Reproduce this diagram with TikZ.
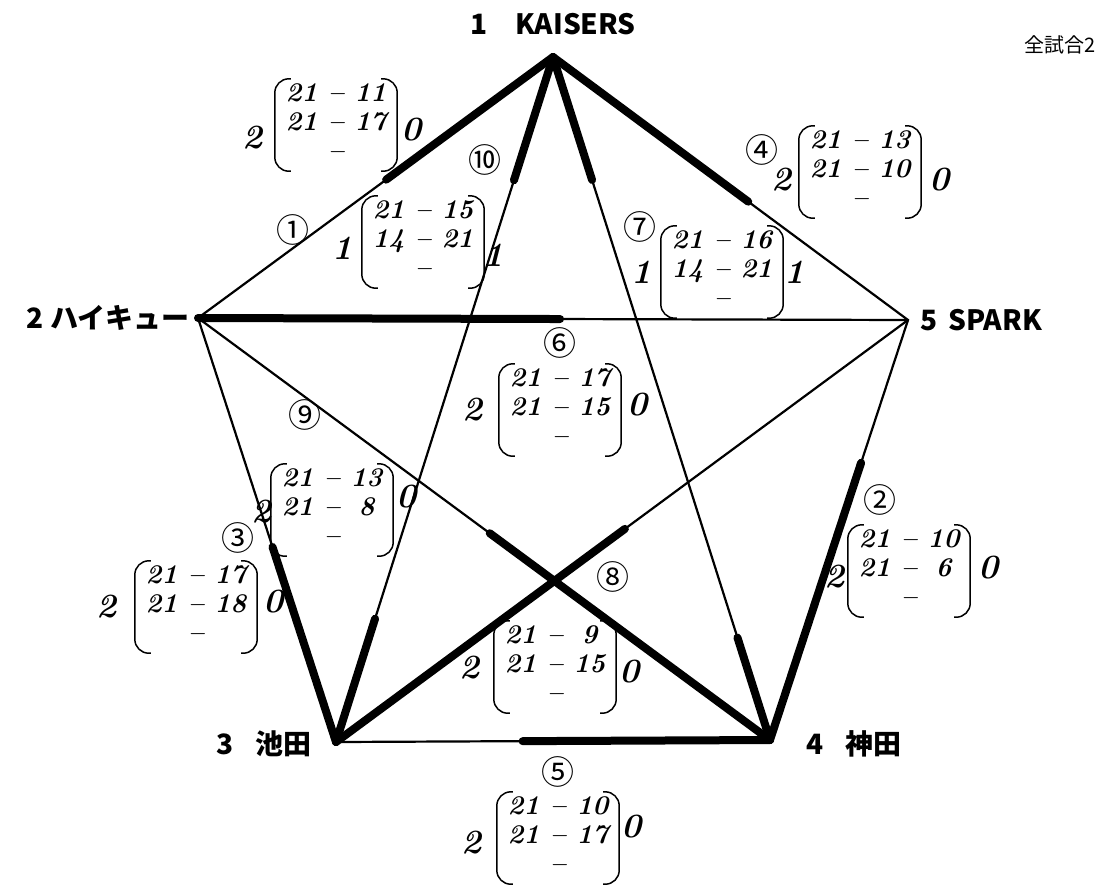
\documentclass[tikz,border=0pt]{standalone}
\usepackage{fontspec}
\usepackage{array}
\newfontfamily\jp{Noto Sans CJK JP}
\usetikzlibrary{calc}
\newcommand\scorerows[4]{\begin{tabular}{@{}>{\centering\arraybackslash}p{39pt}@{}>{\centering\arraybackslash}p{30pt}@{}>{\centering\arraybackslash}p{39pt}@{}}#1 & -- & #2\\ #3 & -- & #4\\ & -- & \end{tabular}}
\newcommand\brk[1]{%
  \draw[brkline] ([xshift=16pt]#1.north west) -- (#1.north west) -- (#1.south west) -- ([xshift=16pt]#1.south west);
  \draw[brkline] ([xshift=-16pt]#1.north east) -- (#1.north east) -- (#1.south east) -- ([xshift=-16pt]#1.south east);}
\tikzset{
  edge/.style={line width=2.2pt},
  win/.style={line width=8pt, line cap=round},
  score/.style={minimum width=122pt, minimum height=92pt, inner sep=0pt, font=\fontsize{27}{29}\selectfont\bfseries\itshape},
  hand/.style={inner sep=0pt, font=\fontsize{34}{34}\selectfont\bfseries\itshape},
  brkline/.style={line width=1.5pt, rounded corners=14pt},
  team/.style={inner sep=0pt, font=\jp\bfseries\fontsize{28}{30}\selectfont},
  circ/.style={inner sep=0pt, font=\jp\fontsize{33}{34}\selectfont},
}
\begin{document}
\begin{tikzpicture}[x=1pt,y=-1pt]
\useasboundingbox[fill=white] (0,0) rectangle (1099,887);
% vertices
\coordinate (v1) at (553,57);
\coordinate (v2) at (198,318);
\coordinate (v5) at (908,320);
\coordinate (v3) at (336,742);
\coordinate (v4) at (770,740);
% team labels
\node[team] (t1) at (553,24) {1\hspace{1em}KAISERS};
\node[team, anchor=east] (t2) at (190,318) {2 ハイキュー};
\node[team, anchor=west] (t5) at (920,320) {5\hspace{0.4em}SPARK};
\node[team, anchor=east] (t3) at (312,744) {3\hspace{0.8em}池田};
\node[team, anchor=west] (t4) at (806,744) {4\hspace{0.8em}神田};
\node[inner sep=0pt, anchor=east, font=\jp\fontsize{20}{21}\selectfont] (note) at (1096,45) {全試合2};
% edges
\draw[edge] (v1) -- (v2) -- (v3) -- (v4) -- (v5) -- cycle;
\draw[edge] (v1) -- (v3);
\draw[edge] (v1) -- (v4);
\draw[edge] (v2) -- (v5);
\draw[edge] (v2) -- (v4);
\draw[edge] (v3) -- (v5);
% winner halves
\draw[win] (v1) -- ($(v1)!0.47!(v2)$);
\draw[win] (v1) -- ($(v1)!0.55!(v5)$);
\draw[win] (v2) -- ($(v2)!0.51!(v5)$);
\draw[win] (v4) -- ($(v4)!0.66!(v5)$);
\draw[win] (v3) -- ($(v3)!0.46!(v2)$);
\draw[win] (v4) -- ($(v4)!0.57!(v3)$);
\draw[win] (v3) -- ($(v3)!0.505!(v5)$);
\draw[win] (v4) -- ($(v4)!0.49!(v2)$);
\draw[win] (v1) -- ($(v1)!0.18!(v3)$);
\draw[win] (v3) -- ($(v3)!0.18!(v1)$);
\draw[win] (v1) -- ($(v1)!0.18!(v4)$);
\draw[win] (v4) -- ($(v4)!0.15!(v1)$);
% match numbers
\node[circ] (c1) at (293,230) {①};
\node[circ] (c2) at (880,500) {②};
\node[circ] (c3) at (238,538) {③};
\node[circ] (c4) at (762,150) {④};
\node[circ] (c5) at (558,772) {⑤};
\node[circ] (c6) at (560,343) {⑥};
\node[circ] (c7) at (640,227) {⑦};
\node[circ] (c8) at (613,577) {⑧};
\node[circ] (c9) at (305,415) {⑨};
\node[circ] (c10) at (485,160) {⑩};
% scores
\node[score] (s1) at (336,125) {\scorerows{21}{11}{21}{17}}; \brk{s1}
\node[hand] (s1a) at (253,138) {2}; \node[hand] (s1b) at (412,130) {0};
\node[score] (s4) at (860,172) {\scorerows{21}{13}{21}{10}}; \brk{s4}
\node[hand] (s4a) at (782,180) {2}; \node[hand] (s4b) at (940,180) {0};
\node[score] (s10) at (423,242) {\scorerows{21}{15}{14}{21}}; \brk{s10}
\node[hand] (s10a) at (343,248) {1}; \node[hand] (s10b) at (494,255) {1};
\node[score] (s7) at (722,272) {\scorerows{21}{16}{14}{21}}; \brk{s7}
\node[hand] (s7a) at (642,272) {1}; \node[hand] (s7b) at (795,272) {1};
\node[score] (s6) at (560,410) {\scorerows{21}{17}{21}{15}}; \brk{s6}
\node[hand] (s6a) at (473,410) {2}; \node[hand] (s6b) at (638,405) {0};
\node[score] (s9) at (332,510) {\scorerows{21}{13}{21}{8}}; \brk{s9}
\node[hand] (s9a) at (262,512) {2}; \node[hand] (s9b) at (407,497) {0};
\node[score] (s3) at (196,607) {\scorerows{21}{17}{21}{18}}; \brk{s3}
\node[hand] (s3a) at (107,607) {2}; \node[hand] (s3b) at (274,602) {0};
\node[score] (s2) at (909,571) {\scorerows{21}{10}{21}{6}}; \brk{s2}
\node[hand] (s2a) at (835,577) {2}; \node[hand] (s2b) at (989,568) {0};
\node[score] (s8) at (555,667) {\scorerows{21}{9}{21}{15}}; \brk{s8}
\node[hand] (s8a) at (470,668) {2}; \node[hand] (s8b) at (630,672) {0};
\node[score] (s5) at (558,838) {\scorerows{21}{10}{21}{17}}; \brk{s5}
\node[hand] (s5a) at (472,843) {2}; \node[hand] (s5b) at (632,827) {0};
\end{tikzpicture}
\end{document}
